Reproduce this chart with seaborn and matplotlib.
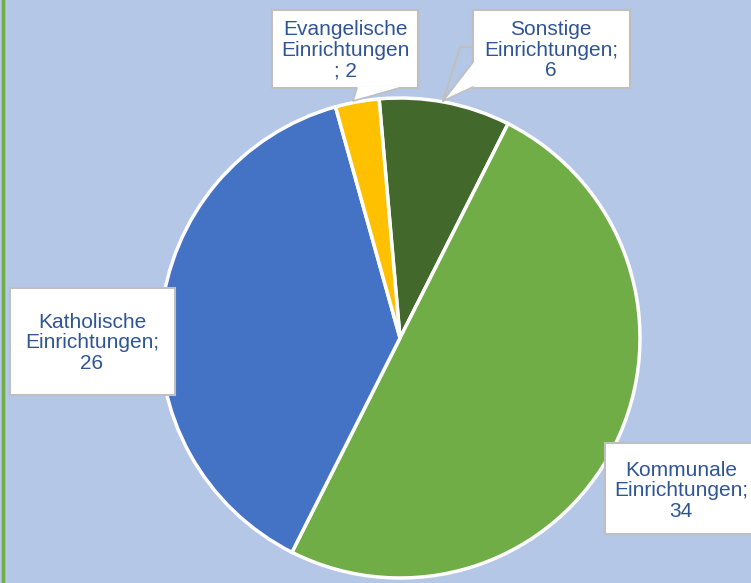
import matplotlib
matplotlib.use('Agg')
import matplotlib.pyplot as plt
import seaborn as sns
from matplotlib.lines import Line2D
from matplotlib.patches import Rectangle, Polygon

# Daten
kategorien = ['Sonstige', 'Kommunale', 'Katholische', 'Evangelische']
werte = [6, 34, 26, 2]
farben = ['#43682B', '#70AD47', '#4472C4', '#FFC000']

sns.set_style('white')
plt.rcParams['font.family'] = ['Liberation Sans', 'DejaVu Sans']

bg = '#B4C7E7'
text_farbe = '#2F5597'
rand = '#BFBFBF'

fig = plt.figure(figsize=(7.51, 5.83), dpi=100, facecolor=bg)
ax = fig.add_axes([0, 0, 1, 1])
ax.set_facecolor(bg)

wedges, _ = ax.pie(werte, colors=sns.color_palette(farben), startangle=95,
                   counterclock=False, radius=1.0,
                   wedgeprops=dict(edgecolor='white', linewidth=2.5))

# 240 px pro Einheit, Mittelpunkt bei (400, 338) px
ax.set_xlim(-400 / 240, 351 / 240)
ax.set_ylim(-245 / 240, 338 / 240)
ax.axis('off')


def p(x, y):
    # Bildpixel -> Datenkoordinaten
    return ((x - 400) / 240, (338 - y) / 240)


labels = [f'{k}\nEinrichtungen;\n{w}' for k, w in zip(kategorien, werte)]
labels[3] = f'{kategorien[3]}\nEinrichtungen\n; {werte[3]}'

# Beschriftungsboxen: (links, oben, rechts, unten) in px, Textmitte
boxen = [(473, 10, 630, 88, 551, 50),
         (605, 443, 770, 534, 681, 491),
         (10, 288, 175, 395, 92, 343),
         (272, 10, 418, 88, 345, 50)]

for lab, (l, o, r, u, tx, ty) in zip(labels, boxen):
    x0, y0 = p(l, u)
    x1, y1 = p(r, o)
    ax.add_patch(Rectangle((x0, y0), x1 - x0, y1 - y0, fc='white', ec=rand,
                           lw=1.5, zorder=3))
    ax.text(*p(tx, ty), lab, ha='center', va='center', fontsize=15,
            color=text_farbe, linespacing=1.12, zorder=5)

# Zeiger Evangelische
ax.add_patch(Polygon([p(357, 87), p(353, 101), p(400, 87)], closed=True,
                     fc='white', ec='none', zorder=4))
ax.add_line(Line2D(*zip(p(357, 88), p(353, 101), p(400, 88)), color=rand,
                   lw=1.2, zorder=4))
# Zeiger Sonstige
ax.add_patch(Polygon([p(474, 62), p(443, 101), p(474, 87)], closed=True,
                     fc='white', ec='none', zorder=4))
ax.add_line(Line2D(*zip(p(473, 62), p(443, 101), p(473, 87)), color=rand,
                   lw=1.2, zorder=4))
ax.add_line(Line2D(*zip(p(473, 47), p(460, 47), p(443, 101)), color=rand,
                   lw=1.5, zorder=2.5))

fig.add_artist(Line2D([0.004, 0.004], [0, 1], color='#70AD47', lw=2.5,
                      transform=fig.transFigure))

fig.savefig('out.png', dpi=100, facecolor=bg)
